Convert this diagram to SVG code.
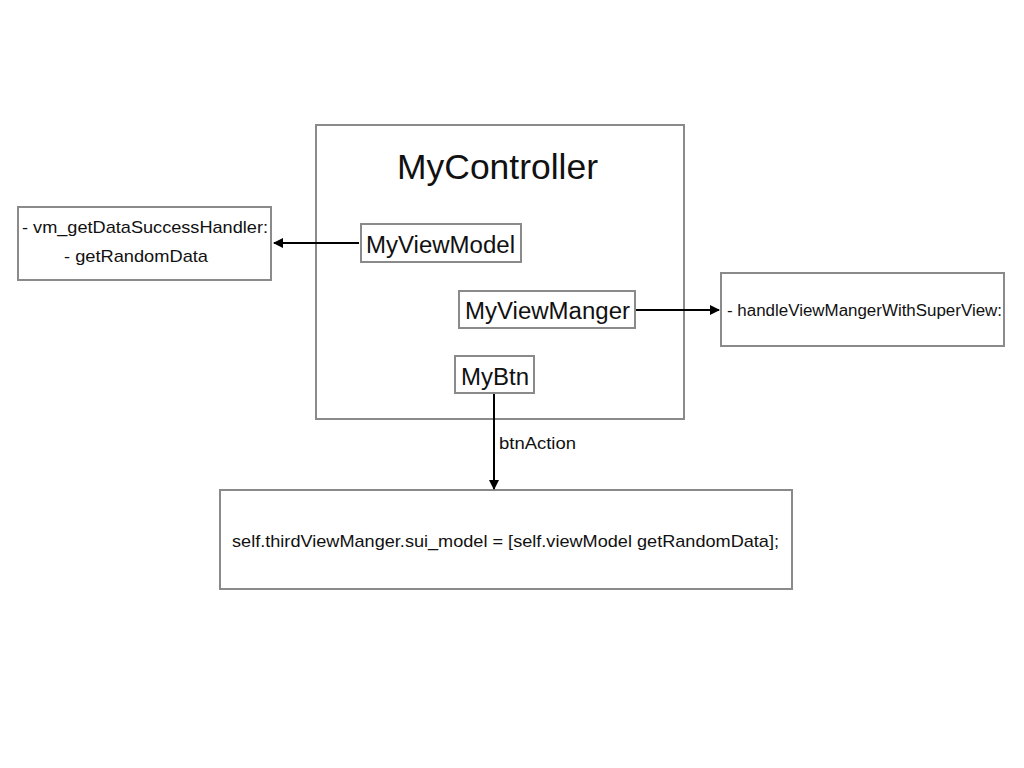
<svg xmlns="http://www.w3.org/2000/svg" width="1024" height="768" viewBox="0 0 1024 768">
<defs>
<style>
.box{fill:#fff;stroke:#8a8a8a;stroke-width:2}
.t{font-family:"Liberation Sans",Arial,sans-serif;fill:#111}
.c{stroke:#000;stroke-width:2;fill:none}
</style>
<marker id="ah" viewBox="0 0 10 10" refX="9" refY="5" markerWidth="5" markerHeight="5" orient="auto" markerUnits="strokeWidth">
<path d="M0,0 L10,5 L0,10 z" fill="#000"/>
</marker>
</defs>
<rect width="1024" height="768" fill="#fff"/>
<g id="controller">
<rect class="box" x="316" y="125" width="368" height="294"/>
<text class="t" x="397" y="179" font-size="35" textLength="201" lengthAdjust="spacingAndGlyphs">MyController</text>
</g>
<g id="viewmodel">
<rect class="box" x="361" y="224" width="160" height="38"/>
<text class="t" x="366" y="253" font-size="23" textLength="149" lengthAdjust="spacingAndGlyphs">MyViewModel</text>
</g>
<g id="viewmanger">
<rect class="box" x="459" y="291" width="176" height="37"/>
<text class="t" x="465" y="319" font-size="23" textLength="165" lengthAdjust="spacingAndGlyphs">MyViewManger</text>
</g>
<g id="btn">
<rect class="box" x="455" y="356" width="79" height="37"/>
<text class="t" x="461" y="385" font-size="23" textLength="68" lengthAdjust="spacingAndGlyphs">MyBtn</text>
</g>
<g id="handler">
<rect class="box" x="18" y="207" width="253" height="73"/>
<text class="t" x="22" y="233" font-size="17" textLength="246" lengthAdjust="spacingAndGlyphs">- vm_getDataSuccessHandler:</text>
<text class="t" x="64" y="262" font-size="17" textLength="144" lengthAdjust="spacingAndGlyphs">- getRandomData</text>
</g>
<g id="superview">
<rect class="box" x="721" y="273" width="283" height="73"/>
<text class="t" x="727" y="316" font-size="16" textLength="275" lengthAdjust="spacingAndGlyphs">- handleViewMangerWithSuperView:</text>
</g>
<g id="code">
<rect class="box" x="220" y="490" width="572" height="99"/>
<text class="t" x="232" y="547" font-size="17" textLength="547" lengthAdjust="spacingAndGlyphs">self.thirdViewManger.sui_model = [self.viewModel getRandomData];</text>
</g>
<g id="connectors">
<line class="c" x1="359" y1="243" x2="274" y2="243" marker-end="url(#ah)"/>
<line class="c" x1="636" y1="310" x2="719" y2="310" marker-end="url(#ah)"/>
<line class="c" x1="494" y1="394" x2="494" y2="489" marker-end="url(#ah)"/>
<text class="t" x="499" y="449" font-size="17" textLength="77" lengthAdjust="spacingAndGlyphs">btnAction</text>
</g>
</svg>
